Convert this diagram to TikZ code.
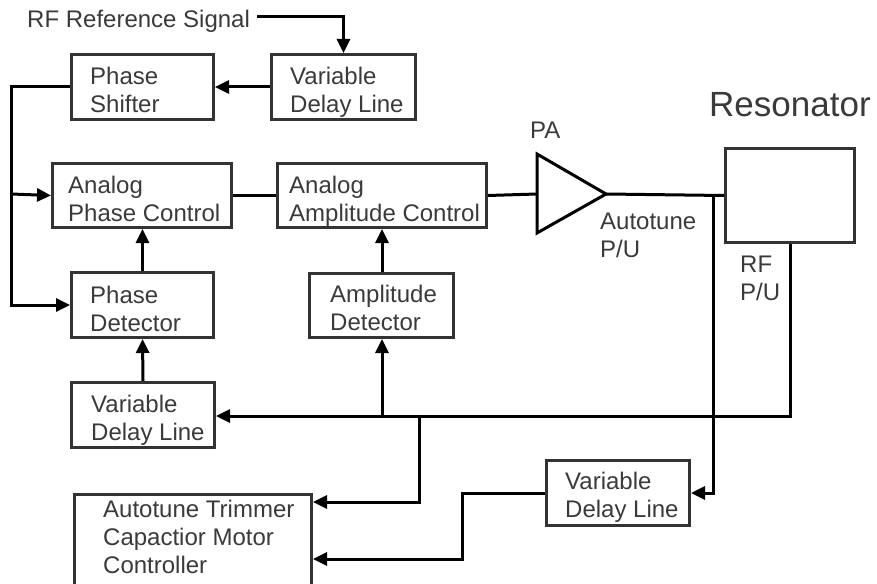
\documentclass[tikz,border=0pt]{standalone}
\usepackage{fontspec}
\setmainfont{Liberation Sans}
\usetikzlibrary{arrows.meta}
\definecolor{boxgray}{HTML}{333333}
\definecolor{txtgray}{HTML}{3A3A3A}
\begin{document}
\begin{tikzpicture}[x=1pt,y=-1pt,
  box/.style={draw=boxgray, line width=3pt, anchor=north west, inner sep=0pt},
  lbl/.style={anchor=base west, align=left, inner sep=0pt, text=txtgray, font=\fontsize{24}{28}\selectfont},
  wire/.style={line width=3pt, black},
  arr/.style={wire, -{Triangle[length=14pt,width=13pt]}}]
\useasboundingbox (0,0) rectangle (877,583);

% boxes
\node[box, minimum width=142pt, minimum height=65pt] (ps)   at (70,53)   {};
\node[box, minimum width=144pt, minimum height=65pt] (vdl1) at (270,53)  {};
\node[box, minimum width=179pt, minimum height=64pt] (apc)  at (51,162)  {};
\node[box, minimum width=209pt, minimum height=64pt] (aac)  at (276,162) {};
\node[box, minimum width=142pt, minimum height=65pt] (pd)   at (70,271)  {};
\node[box, minimum width=144pt, minimum height=64pt] (ad)   at (308,272) {};
\node[box, minimum width=143pt, minimum height=65pt] (vdl2) at (70,381)  {};
\node[box, minimum width=237pt, minimum height=95pt] (atmc) at (73,493)  {};
\node[box, minimum width=143pt, minimum height=65pt] (vdl3) at (545,459) {};
\node[box, minimum width=129pt, minimum height=94pt] (res)  at (724,147) {};

% box texts (anchor = baseline of the last line)
\node[lbl] (tps)   at (90,113)  {Phase\\Shifter};
\node[lbl] (tvdl1) at (290,113) {Variable\\Delay Line};
\node[lbl] (tapc)  at (68,221)  {Analog\\Phase Control};
\node[lbl] (taac)  at (289,221) {Analog\\Amplitude Control};
\node[lbl] (tpd)   at (90,331)  {Phase\\Detector};
\node[lbl] (tad)   at (330,330) {Amplitude\\Detector};
\node[lbl] (tvdl2) at (91,440)  {Variable\\Delay Line};
\node[lbl] (tatmc) at (103,573) {Autotune Trimmer\\Capactior Motor\\Controller};
\node[lbl] (tvdl3) at (565,517) {Variable\\Delay Line};

% free labels
\node[lbl] (rf)   at (27,28)   {RF Reference Signal};
\node[lbl] (lpa)  at (530,138) {PA};
\node[lbl] (lat)  at (600,257) {Autotune\\P/U};
\node[lbl] (lrf)  at (740,300) {RF\\P/U};
\node[lbl, font=\fontsize{35}{40}\selectfont] (lres) at (709,117) {Resonator};

% PA triangle
\coordinate (pain)  at (537,194);
\coordinate (paout) at (606,194);
\draw[line width=3pt, line join=miter] (537,154) -- (paout) -- (537,233) -- cycle;

% coordinates
\coordinate (rfs) at (257,17);
\coordinate (lx)  at (11,194);
\coordinate (bus) at (788,416);
\coordinate (j1)  at (382,416);
\coordinate (j2)  at (419,416);
\coordinate (k2)  at (419,502);
\coordinate (k3)  at (462,559);
\coordinate (atp) at (713,194);

% connectors
\draw[arr] (rfs) -| (vdl1.north);
\draw[arr] (vdl1.west) -- (ps.east);
\draw[arr] (ps.west) -| (lx) |- (pd.west);
\draw[arr] (lx) -- (apc.west);
\draw[wire] (apc.east) -- (aac.west);
\draw[wire] (aac.east) -- (pain);
\draw[wire] (paout) -- (res.west);
\draw[arr] (atp) |- (vdl3.east);
\draw[arr] (res.south) |- (vdl2.east |- bus);
\draw[arr] (j1) -- (j1 |- ad.south);
\draw[arr] (j1 |- ad.north) -- (j1 |- aac.south);
\draw[arr] (vdl2.north) -- (pd.south);
\draw[arr] (pd.north) -- (pd.north |- apc.south);
\draw[arr] (j2) -- (k2) -- (atmc.east |- k2);
\draw[arr] (vdl3.west) -| (k3) -- (atmc.east |- k3);
\end{tikzpicture}
\end{document}
